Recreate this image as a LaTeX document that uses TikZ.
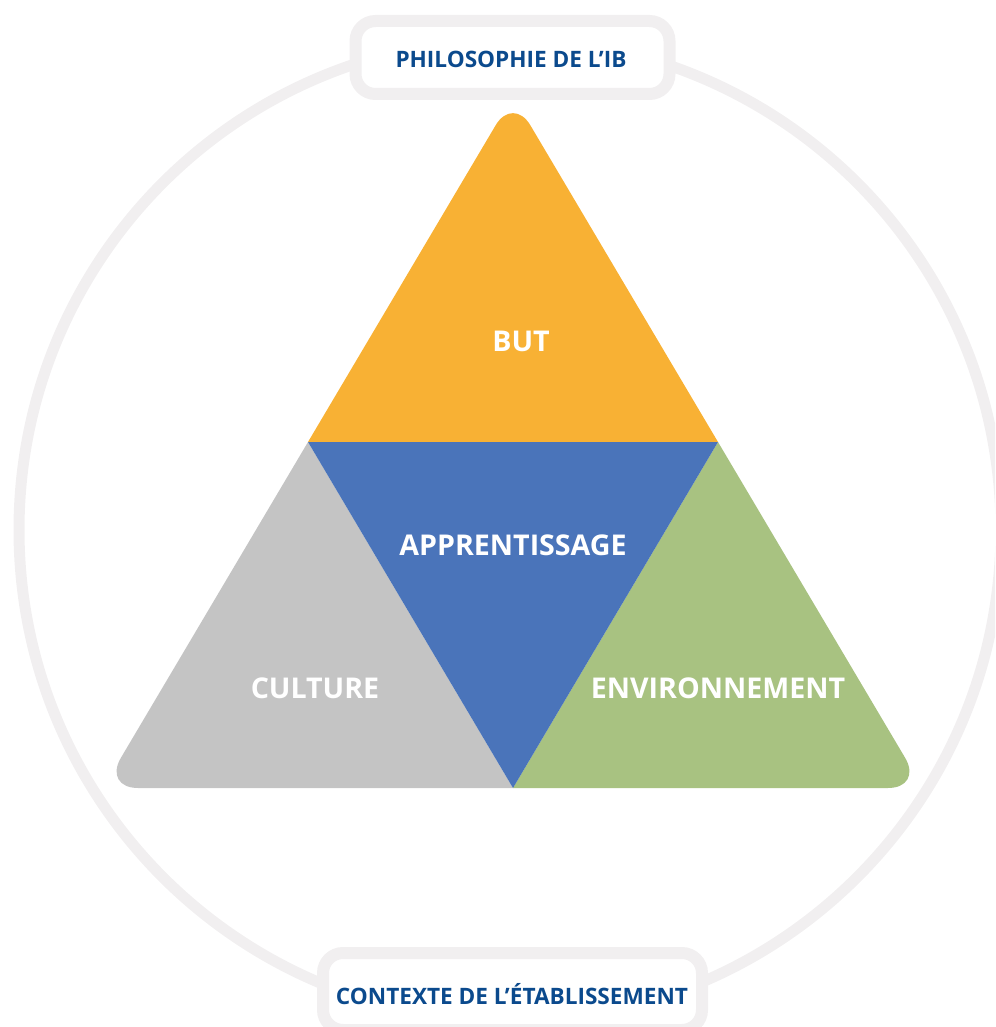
\documentclass[tikz,border=0pt]{standalone}
\usepackage{fontspec}
\setmainfont{Open Sans}
\definecolor{ringgray}{HTML}{F1EFF0}
\definecolor{ibblue}{HTML}{0B4A8D}
\definecolor{butorange}{HTML}{F8B134}
\definecolor{apblue}{HTML}{4A74BA}
\definecolor{culgray}{HTML}{C4C4C4}
\definecolor{envgreen}{HTML}{A8C281}
\tikzset{
  ringline/.style={draw=ringgray, line width=11pt},
  labelbox/.style={draw=ringgray, fill=white, line width=12pt, rounded corners=20pt},
  boxtext/.style={text=ibblue, font=\bfseries\fontsize{22.6}{26}\selectfont, inner sep=0pt},
  tritext/.style={text=white, font=\bfseries\fontsize{28.6}{34}\selectfont, inner sep=0pt}
}
\begin{document}
\begin{tikzpicture}[x=1pt,y=-1pt]
\useasboundingbox (0,0) rectangle (995,1027);
\clip (0,0) rectangle (995,1027);
% ring
\draw[ringline] (510,530) circle[radius=491];
% label boxes
\draw[labelbox] (355.5,21) rectangle (669.5,94);
\draw[labelbox] (323,953) rectangle (702,1030);
\node[boxtext] (philo) at (511,59) {PHILOSOPHIE DE L’IB};
\node[boxtext] (contexte) at (512,994) {CONTEXTE DE L’ÉTABLISSEMENT};
% triangles
\fill[butorange] (308,442) [rounded corners=34pt] -- (513,96) [sharp corners] -- (718,442) -- cycle;
\fill[culgray] (513,788) -- (308,442) [rounded corners=35pt] -- (103,788) [sharp corners] -- cycle;
\fill[envgreen] (513,788) -- (718,442) [rounded corners=35pt] -- (923,788) [sharp corners] -- cycle;
\fill[apblue] (308,442) -- (718,442) -- (513,788) -- cycle;
% labels
\node[tritext] (but) at (521,341) {BUT};
\node[tritext] (apprent) at (513,545) {APPRENTISSAGE};
\node[tritext] (culture) at (315,688) {CULTURE};
\node[tritext] (environ) at (718,688) {ENVIRONNEMENT};
\end{tikzpicture}
\end{document}
